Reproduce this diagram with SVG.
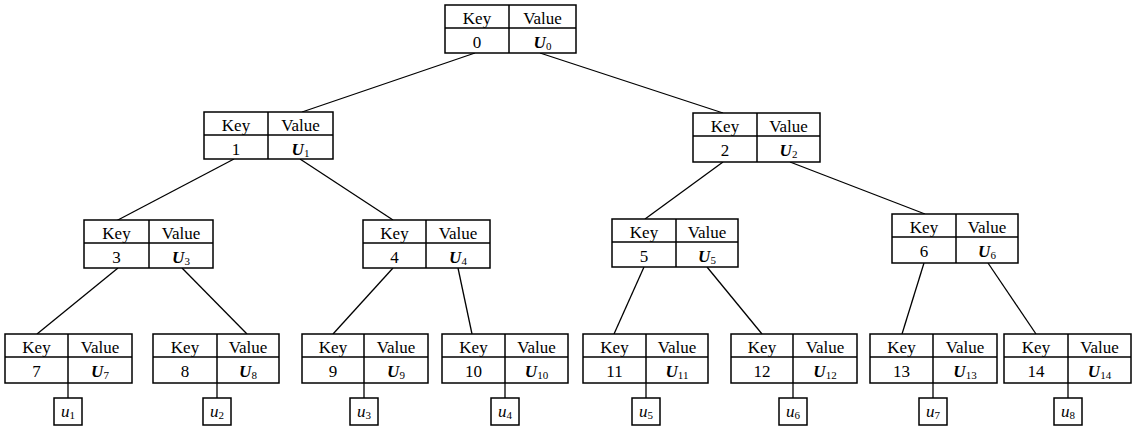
<svg xmlns="http://www.w3.org/2000/svg" width="1142" height="429" viewBox="0 0 1142 429" font-family="'Liberation Serif', serif">
  <style>
    .box { fill: #fff; stroke: #000; stroke-width: 1.5; }
    .rule { stroke: #000; stroke-width: 1.5; fill: none; }
    .edge { stroke: #000; stroke-width: 1.3; fill: none; }
    text { font-family: 'Liberation Serif', 'DejaVu Serif', serif; font-size: 17px; fill: #000; text-anchor: middle; }
    .v { font-weight: bold; font-style: italic; }
    .u { font-style: italic; }
    .sub { font-size: 11px; font-weight: normal; font-style: normal; }
  </style>

  <!-- tree edges and leaf stems -->
  <g id="connectors">
    <line class="edge" x1="475" y1="53" x2="302" y2="112"/>
    <line class="edge" x1="540" y1="53" x2="723" y2="113"/>
    <line class="edge" x1="234" y1="159" x2="116" y2="221"/>
    <line class="edge" x1="300" y1="159" x2="393" y2="220"/>
    <line class="edge" x1="723" y1="162" x2="645" y2="219"/>
    <line class="edge" x1="790" y1="162" x2="925" y2="214"/>
    <line class="edge" x1="118" y1="268" x2="37" y2="334"/>
    <line class="edge" x1="182" y1="268" x2="247" y2="334"/>
    <line class="edge" x1="393" y1="268" x2="333" y2="334"/>
    <line class="edge" x1="458" y1="268" x2="472" y2="334"/>
    <line class="edge" x1="644" y1="267" x2="614" y2="334"/>
    <line class="edge" x1="707" y1="267" x2="762" y2="334"/>
    <line class="edge" x1="924" y1="263" x2="902" y2="334"/>
    <line class="edge" x1="988" y1="263" x2="1036" y2="334"/>
    <line class="edge" x1="68" y1="383" x2="68" y2="398"/>
    <line class="edge" x1="217" y1="383" x2="217" y2="398"/>
    <line class="edge" x1="364" y1="383" x2="364" y2="398"/>
    <line class="edge" x1="505" y1="383" x2="505" y2="398"/>
    <line class="edge" x1="646" y1="383" x2="646" y2="398"/>
    <line class="edge" x1="793" y1="383" x2="793" y2="398"/>
    <line class="edge" x1="933" y1="383" x2="933" y2="398"/>
    <line class="edge" x1="1068" y1="383" x2="1068" y2="398"/>
  </g>

  <!-- internal nodes -->
  <g id="node-0">
    <rect class="box" x="445" y="5" width="131" height="48"/>
    <line class="rule" x1="445" y1="28" x2="576" y2="28"/>
    <line class="rule" x1="509" y1="5" x2="509" y2="53"/>
    <text x="477" y="24">Key</text><text x="542.5" y="24">Value</text>
    <text x="477" y="48">0</text><text x="542.5" y="48" class="v">U<tspan class="sub" dy="2">0</tspan></text>
  </g>
  <g id="node-1">
    <rect class="box" x="204" y="112" width="129" height="47"/>
    <line class="rule" x1="204" y1="135" x2="333" y2="135"/>
    <line class="rule" x1="268" y1="112" x2="268" y2="159"/>
    <text x="236" y="131">Key</text><text x="300.5" y="131">Value</text>
    <text x="236" y="155">1</text><text x="300.5" y="155" class="v">U<tspan class="sub" dy="2">1</tspan></text>
  </g>
  <g id="node-2">
    <rect class="box" x="693" y="113" width="127" height="49"/>
    <line class="rule" x1="693" y1="136" x2="820" y2="136"/>
    <line class="rule" x1="757" y1="113" x2="757" y2="162"/>
    <text x="725" y="132">Key</text><text x="788.5" y="132">Value</text>
    <text x="725" y="156">2</text><text x="788.5" y="156" class="v">U<tspan class="sub" dy="2">2</tspan></text>
  </g>
  <g id="node-3">
    <rect class="box" x="84" y="220" width="129" height="48"/>
    <line class="rule" x1="84" y1="243" x2="213" y2="243"/>
    <line class="rule" x1="149" y1="220" x2="149" y2="268"/>
    <text x="116.5" y="239">Key</text><text x="181" y="239">Value</text>
    <text x="116.5" y="263">3</text><text x="181" y="263" class="v">U<tspan class="sub" dy="2">3</tspan></text>
  </g>
  <g id="node-4">
    <rect class="box" x="363" y="220" width="127" height="48"/>
    <line class="rule" x1="363" y1="243" x2="490" y2="243"/>
    <line class="rule" x1="426" y1="220" x2="426" y2="268"/>
    <text x="394.5" y="239">Key</text><text x="458" y="239">Value</text>
    <text x="394.5" y="263">4</text><text x="458" y="263" class="v">U<tspan class="sub" dy="2">4</tspan></text>
  </g>
  <g id="node-5">
    <rect class="box" x="612" y="219" width="126" height="48"/>
    <line class="rule" x1="612" y1="242" x2="738" y2="242"/>
    <line class="rule" x1="676" y1="219" x2="676" y2="267"/>
    <text x="644" y="238">Key</text><text x="707" y="238">Value</text>
    <text x="644" y="262">5</text><text x="707" y="262" class="v">U<tspan class="sub" dy="2">5</tspan></text>
  </g>
  <g id="node-6">
    <rect class="box" x="892" y="214" width="126" height="49"/>
    <line class="rule" x1="892" y1="237" x2="1018" y2="237"/>
    <line class="rule" x1="956" y1="214" x2="956" y2="263"/>
    <text x="924" y="233">Key</text><text x="987" y="233">Value</text>
    <text x="924" y="257">6</text><text x="987" y="257" class="v">U<tspan class="sub" dy="2">6</tspan></text>
  </g>

  <!-- leaf nodes with their attached u boxes -->
  <g id="node-7">
    <rect class="box" x="5" y="334" width="127" height="49"/>
    <line class="rule" x1="5" y1="357" x2="132" y2="357"/>
    <line class="rule" x1="68" y1="334" x2="68" y2="383"/>
    <text x="36.5" y="353">Key</text><text x="100" y="353">Value</text>
    <text x="36.5" y="377">7</text><text x="100" y="377" class="v">U<tspan class="sub" dy="2">7</tspan></text>
  </g>
  <g id="node-8">
    <rect class="box" x="153" y="334" width="126" height="49"/>
    <line class="rule" x1="153" y1="357" x2="279" y2="357"/>
    <line class="rule" x1="217" y1="334" x2="217" y2="383"/>
    <text x="185" y="353">Key</text><text x="248" y="353">Value</text>
    <text x="185" y="377">8</text><text x="248" y="377" class="v">U<tspan class="sub" dy="2">8</tspan></text>
  </g>
  <g id="node-9">
    <rect class="box" x="302" y="334" width="126" height="49"/>
    <line class="rule" x1="302" y1="357" x2="428" y2="357"/>
    <line class="rule" x1="364" y1="334" x2="364" y2="383"/>
    <text x="333" y="353">Key</text><text x="396" y="353">Value</text>
    <text x="333" y="377">9</text><text x="396" y="377" class="v">U<tspan class="sub" dy="2">9</tspan></text>
  </g>
  <g id="node-10">
    <rect class="box" x="442" y="334" width="126" height="49"/>
    <line class="rule" x1="442" y1="357" x2="568" y2="357"/>
    <line class="rule" x1="505" y1="334" x2="505" y2="383"/>
    <text x="473.5" y="353">Key</text><text x="536.5" y="353">Value</text>
    <text x="473.5" y="377">10</text><text x="536.5" y="377" class="v">U<tspan class="sub" dy="2">10</tspan></text>
  </g>
  <g id="node-11">
    <rect class="box" x="583" y="334" width="125" height="49"/>
    <line class="rule" x1="583" y1="357" x2="708" y2="357"/>
    <line class="rule" x1="646" y1="334" x2="646" y2="383"/>
    <text x="614.5" y="353">Key</text><text x="677" y="353">Value</text>
    <text x="614.5" y="377">11</text><text x="677" y="377" class="v">U<tspan class="sub" dy="2">11</tspan></text>
  </g>
  <g id="node-12">
    <rect class="box" x="731" y="334" width="126" height="49"/>
    <line class="rule" x1="731" y1="357" x2="857" y2="357"/>
    <line class="rule" x1="793" y1="334" x2="793" y2="383"/>
    <text x="762" y="353">Key</text><text x="825" y="353">Value</text>
    <text x="762" y="377">12</text><text x="825" y="377" class="v">U<tspan class="sub" dy="2">12</tspan></text>
  </g>
  <g id="node-13">
    <rect class="box" x="870" y="334" width="127" height="49"/>
    <line class="rule" x1="870" y1="357" x2="997" y2="357"/>
    <line class="rule" x1="933" y1="334" x2="933" y2="383"/>
    <text x="901.5" y="353">Key</text><text x="965" y="353">Value</text>
    <text x="901.5" y="377">13</text><text x="965" y="377" class="v">U<tspan class="sub" dy="2">13</tspan></text>
  </g>
  <g id="node-14">
    <rect class="box" x="1004" y="334" width="127" height="49"/>
    <line class="rule" x1="1004" y1="357" x2="1131" y2="357"/>
    <line class="rule" x1="1068" y1="334" x2="1068" y2="383"/>
    <text x="1036" y="353">Key</text><text x="1099.5" y="353">Value</text>
    <text x="1036" y="377">14</text><text x="1099.5" y="377" class="v">U<tspan class="sub" dy="2">14</tspan></text>
  </g>

  <g id="u-1"><rect class="box" x="54" y="398" width="28" height="27"/><text x="68" y="417" class="u">u<tspan class="sub" dy="2">1</tspan></text></g>
  <g id="u-2"><rect class="box" x="203" y="398" width="28" height="27"/><text x="217" y="417" class="u">u<tspan class="sub" dy="2">2</tspan></text></g>
  <g id="u-3"><rect class="box" x="350" y="398" width="28" height="27"/><text x="364" y="417" class="u">u<tspan class="sub" dy="2">3</tspan></text></g>
  <g id="u-4"><rect class="box" x="491" y="398" width="28" height="27"/><text x="505" y="417" class="u">u<tspan class="sub" dy="2">4</tspan></text></g>
  <g id="u-5"><rect class="box" x="632" y="398" width="28" height="27"/><text x="646" y="417" class="u">u<tspan class="sub" dy="2">5</tspan></text></g>
  <g id="u-6"><rect class="box" x="779" y="398" width="28" height="27"/><text x="793" y="417" class="u">u<tspan class="sub" dy="2">6</tspan></text></g>
  <g id="u-7"><rect class="box" x="919" y="398" width="28" height="27"/><text x="933" y="417" class="u">u<tspan class="sub" dy="2">7</tspan></text></g>
  <g id="u-8"><rect class="box" x="1054" y="398" width="28" height="27"/><text x="1068" y="417" class="u">u<tspan class="sub" dy="2">8</tspan></text></g>
</svg>
